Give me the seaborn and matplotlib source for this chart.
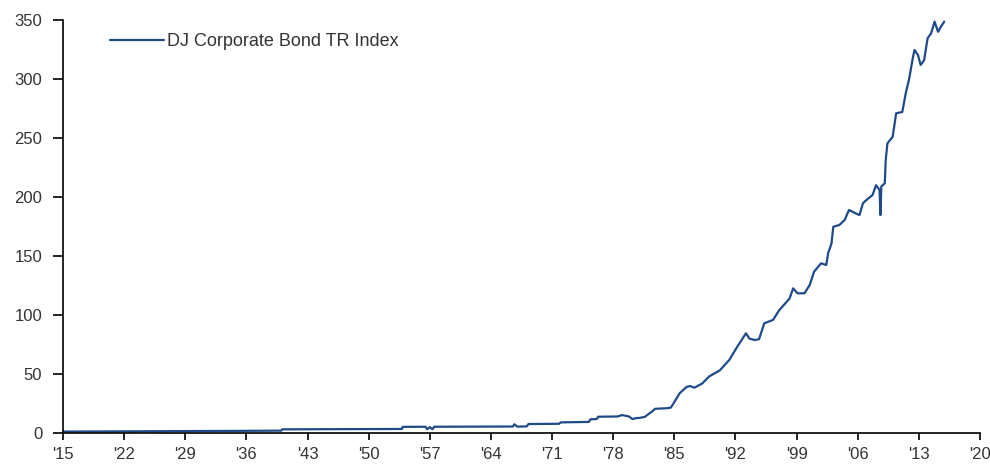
import matplotlib
matplotlib.use("Agg")
import matplotlib.pyplot as plt
import seaborn as sns
import pandas as pd

# DJ Corporate Bond total return index, read at irregular dates (fractional years)
years = [
    1915.0, 1925.0, 1935.0, 1940.0, 1940.1, 1948.0, 1953.8, 1953.9, 1956.5, 1956.7,
    1957.0, 1957.3, 1957.5, 1962.0, 1966.5, 1966.7, 1967.0, 1968.1, 1968.3, 1971.8,
    1972.0, 1975.2, 1975.4, 1976.1, 1976.3, 1978.5, 1979.0, 1979.8, 1980.2, 1980.6,
    1981.0, 1981.6, 1982.4, 1982.8, 1984.1, 1984.6, 1984.9, 1985.6, 1986.4, 1986.8,
    1987.3, 1988.2, 1989.0, 1990.2, 1991.3, 1992.1, 1993.2, 1993.6, 1994.2, 1994.7,
    1995.3, 1996.3, 1997.0, 1998.2, 1998.6, 1999.1, 1999.9, 2000.5, 2001.0, 2001.8,
    2002.4, 2002.6, 2003.0, 2003.2, 2003.9, 2004.5, 2005.0, 2005.8, 2006.2, 2006.6,
    2007.0, 2007.7, 2008.1, 2008.5, 2008.6, 2008.7, 2009.1, 2009.2, 2009.4, 2010.0,
    2010.4, 2011.1, 2011.5, 2011.9, 2012.3, 2012.5, 2012.9, 2013.2, 2013.6, 2014.0,
    2014.4, 2014.8, 2015.2, 2015.5, 2015.9,
]
values = [
    1.2, 1.5, 1.8, 2.0, 3.1, 3.3, 3.4, 5.2, 5.3, 3.2,
    5.0, 3.2, 5.3, 5.4, 5.5, 7.4, 5.4, 5.6, 7.6, 7.8,
    9.0, 9.4, 11.6, 11.8, 13.8, 14.0, 15.2, 14.0, 11.8, 12.6,
    12.8, 13.6, 18.0, 20.5, 21.0, 21.5, 25.0, 33.6, 39.0, 39.8,
    38.4, 42.0, 48.0, 53.0, 62.0, 71.8, 84.5, 80.0, 78.8, 79.5,
    93.0, 95.8, 104.0, 114.0, 122.6, 118.4, 118.4, 125.4, 136.7, 143.8,
    142.4, 152.0, 160.8, 174.8, 176.3, 180.5, 189.0, 186.0, 184.7, 194.7,
    197.5, 201.7, 210.0, 206.0, 184.7, 209.0, 211.6, 231.0, 245.5, 251.0,
    271.0, 272.0, 288.0, 300.6, 317.5, 324.6, 320.3, 311.9, 316.0, 334.5,
    338.7, 348.6, 340.0, 344.0, 348.6,
]

x_ticks = [1915, 1922, 1929, 1936, 1943, 1950, 1957, 1964, 1971, 1978,
           1985, 1992, 1999, 2006, 2013, 2020]
x_tick_labels = ["'15", "'22", "'29", "'36", "'43", "'50", "'57", "'64", "'71",
                 "'78", "'85", "'92", "'99", "'06", "'13", "'20"]
y_ticks = [0, 50, 100, 150, 200, 250, 300, 350]
series_name = "DJ Corporate Bond TR Index"

df = pd.DataFrame({"year": years, "value": values})

sns.set_theme(style="white")
plt.rcParams["font.family"] = ["Liberation Sans", "DejaVu Sans"]

fig = plt.figure(figsize=(9.9, 4.7), dpi=100)
ax = fig.add_axes([63 / 990, 37 / 470, (980 - 63) / 990, (433 - 20) / 470])

sns.lineplot(data=df, x="year", y="value", ax=ax, color="#1F4A8A",
             linewidth=1.6, estimator=None, sort=False, label=series_name)

ax.set_xlim(1915, 2020)
ax.set_ylim(0, 350)
ax.set_xticks(x_ticks)
ax.set_xticklabels(x_tick_labels)
ax.set_yticks(y_ticks)
ax.set_xlabel("")
ax.set_ylabel("")

for side in ("top", "right"):
    ax.spines[side].set_visible(False)
for side in ("left", "bottom"):
    ax.spines[side].set_color("black")
    ax.spines[side].set_linewidth(1.2)

ax.tick_params(axis="both", which="major", direction="out", color="black",
               width=1.2, labelsize=12, labelcolor="#333333",
               bottom=True, left=True)
ax.tick_params(axis="y", length=7, pad=8)
ax.tick_params(axis="x", length=5, pad=5)
ax.grid(False)

leg = ax.legend(loc="upper left", bbox_to_anchor=(0.043, 0.985), frameon=False,
                fontsize=13, handlelength=3.0, handletextpad=0.15,
                borderaxespad=0)
for t in leg.get_texts():
    t.set_color("#333333")

fig.savefig("out.png", dpi=100, facecolor="white")
